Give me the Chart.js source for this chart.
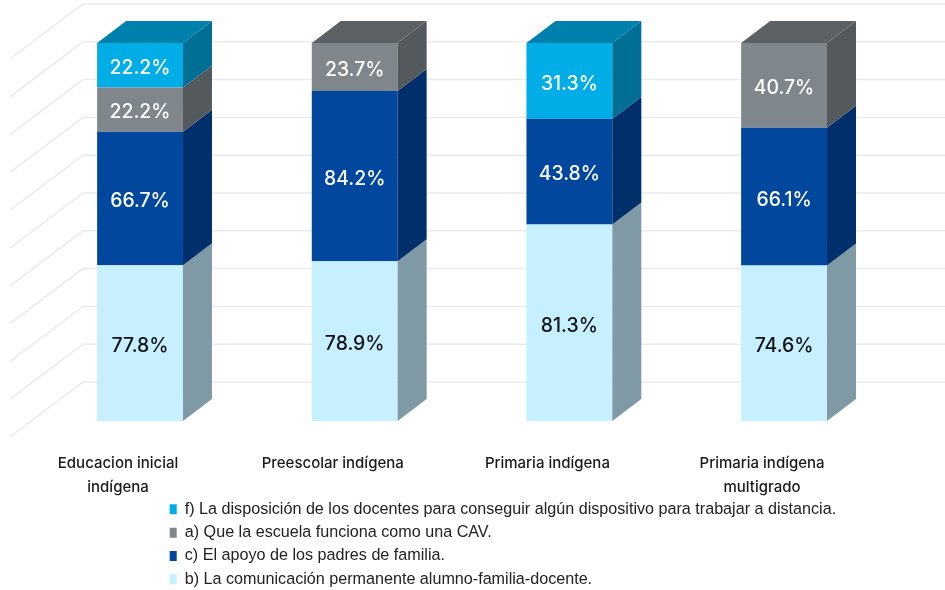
<!DOCTYPE html>
<html><head><meta charset="utf-8">
<style>html,body{margin:0;padding:0;background:#fff}canvas{display:block}</style>
<script src="https://cdn.jsdelivr.net/npm/chart.js@4"></script></head>
<body><canvas id="c" width="945" height="590"></canvas>
<script>
const categories = [["Educacion inicial","indígena"],"Preescolar indígena","Primaria indígena",["Primaria indígena","multigrado"]];
const seriesB = [77.8, 78.9, 81.3, 74.6];
const seriesC = [66.7, 84.2, 43.8, 66.1];
const seriesA = [22.2, 23.7, null, 40.7];
const seriesF = [22.2, null, 31.3, null];
const nameB = "b) La comunicación permanente alumno-familia-docente.";
const nameC = "c) El apoyo de los padres de familia.";
const nameA = "a) Que la escuela funciona como una CAV.";
const nameF = "f) La disposición de los docentes para conseguir algún dispositivo para trabajar a distancia.";
const allSeries = [seriesB, seriesC, seriesA, seriesF];
const totals = categories.map((_, i) => allSeries.reduce((s, a) => s + (a[i] || 0), 0));
const share = a => a.map((v, i) => v == null ? null : v / totals[i] * 100);

const DX = 29, DY = 22;
const threeD = {
  id: 'threeD',
  beforeDatasetsDraw(chart) {
    const ctx = chart.ctx, y = chart.scales.y;
    ctx.save();
    ctx.strokeStyle = '#e9eaeb'; ctx.lineWidth = 1.5;
    y.ticks.forEach(t => {
      const p = y.getPixelForValue(t.value) - 39;
      ctx.beginPath(); ctx.moveTo(10, p + 55); ctx.lineTo(83, p); ctx.lineTo(945, p); ctx.stroke();
    });
    ctx.restore();
  },
  afterDatasetsDraw(chart) {
    const ctx = chart.ctx;
    ctx.save();
    chart.data.datasets.forEach((ds, di) => {
      chart.getDatasetMeta(di).data.forEach((bar, i) => {
        if (ds.raw[i] == null) return;
        const r = bar.x + bar.width / 2, l = bar.x - bar.width / 2;
        ctx.fillStyle = ds.sideColor;
        ctx.beginPath(); ctx.moveTo(r, bar.y); ctx.lineTo(r + DX, bar.y - DY);
        ctx.lineTo(r + DX, bar.base - DY); ctx.lineTo(r, bar.base); ctx.closePath(); ctx.fill();
        const isTop = !chart.data.datasets.slice(di + 1).some(d => d.raw[i] != null);
        if (isTop) {
          ctx.fillStyle = ds.topColor;
          ctx.beginPath(); ctx.moveTo(l, bar.y); ctx.lineTo(l + DX, bar.y - DY);
          ctx.lineTo(r + DX, bar.y - DY); ctx.lineTo(r, bar.y); ctx.closePath(); ctx.fill();
        }
        ctx.fillStyle = ds.labelColor;
        ctx.font = '500 19.4px Inter';
        ctx.textAlign = 'center'; ctx.textBaseline = 'middle';
        ctx.fillText(ds.raw[i].toFixed(1) + '%', bar.x, (bar.y + bar.base) / 2 + 3);
      });
    });
    ctx.restore();
  },
  afterLayout(chart) {
    const lg = chart.legend;
    const w = lg.width, h = lg.height;
    lg.left = 162.5; lg.right = 162.5 + w; lg.top = 494; lg.bottom = 494 + h;
  }
};
const makeSet = (label, raw, bg, side, top, lc) => ({
  label, raw, data: share(raw), backgroundColor: bg, sideColor: side, topColor: top, labelColor: lc,
  borderWidth: 0, barPercentage: 0.4, categoryPercentage: 1
});
new Chart(document.getElementById('c'), {
  type: 'bar',
  data: {
    labels: categories,
    datasets: [
      makeSet(nameB, seriesB, '#c6efff', '#7f99a5', '#9fc0cd', '#111111'),
      makeSet(nameC, seriesC, '#00479d', '#002f6b', '#00347a', '#ffffff'),
      makeSet(nameA, seriesA, '#7f878d', '#54595d', '#5c6165', '#ffffff'),
      makeSet(nameF, seriesF, '#00ade6', '#006f96', '#0080ac', '#ffffff')
    ]
  },
  options: {
    responsive: false, animation: false,
    layout: { padding: { left: 32.7, right: 53.6, top: 43, bottom: 0 } },
    scales: {
      x: {
        stacked: true, offset: true,
        grid: { display: false }, border: { display: false },
        ticks: { autoSkip: false, maxRotation: 0, labelOffset: -22, padding: 22,
          color: '#1a1a1a', font: { family: 'Inter', size: 15, weight: '500', lineHeight: 1.6 } },
        afterFit(s) { s.height = 169; }
      },
      y: { stacked: true, display: false, min: 0, max: 100, ticks: { stepSize: 10 } }
    },
    plugins: {
      tooltip: { enabled: false },
      legend: {
        position: 'chartArea', align: 'start', reverse: true,
        labels: { boxWidth: 7, boxHeight: 10, padding: 7.2, color: '#222222',
          font: { family: 'Liberation Sans', size: 16.15 } }
      }
    }
  },
  plugins: [threeD]
});
</script></body></html>
